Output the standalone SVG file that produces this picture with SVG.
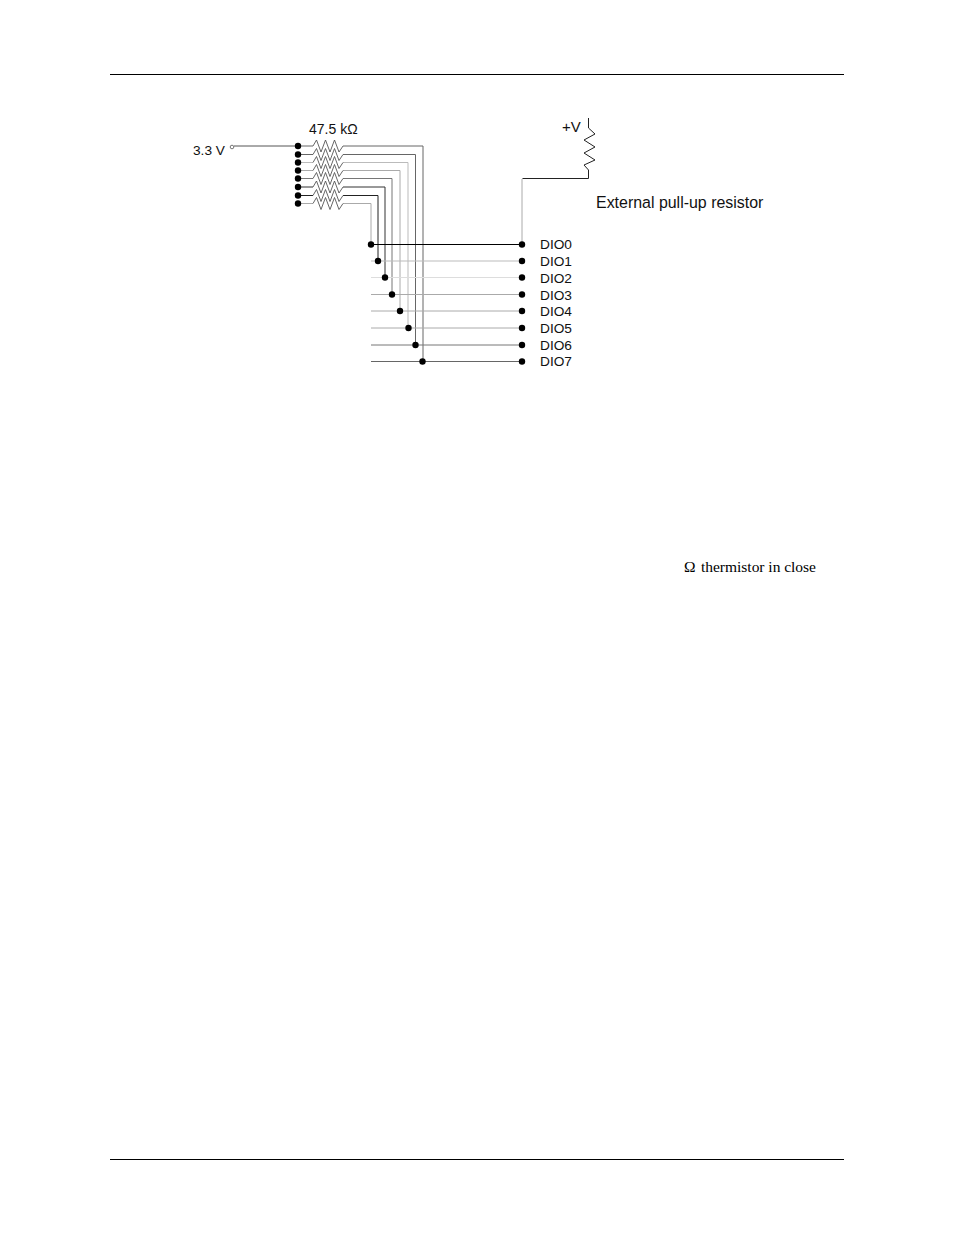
<svg xmlns="http://www.w3.org/2000/svg" width="954" height="1235" viewBox="0 0 954 1235">
<defs>
<g id="res"><path d="M0 0L3.500 -6L8 6L12.500 -6L17 6L21.500 -6L26 6L30 0" fill="none" stroke="#555" stroke-width="0.9"/></g>
<circle id="dot" r="3.200" fill="#000"/>
</defs>
<style>
.a{font-family:"Liberation Sans",Arial,sans-serif;font-size:13.700px;fill:#111}
.s{font-family:"Liberation Serif","Times New Roman",serif;font-size:15.500px;fill:#000}
.w{fill:none}
</style>
<rect width="954" height="1235" fill="#fff"/>
<g id="page-rules" stroke="#000" stroke-width="1">
<line x1="110" y1="74.500" x2="844" y2="74.500"/>
<line x1="110" y1="1159.500" x2="844" y2="1159.500"/>
</g>
<g id="connectors" class="w" stroke-width="1">
<path d="M234 146H298" stroke="#555"/>
<path d="M298 146H313M343 146H423V361" stroke="#666"/>
<path d="M298 154.500H313M343 154.500H415.500V345" stroke="#666"/>
<path d="M298 162.500H313M343 162.500H408V328" stroke="#bbb"/>
<path d="M298 170.500H313M343 170.500H400V311" stroke="#aaa"/>
<path d="M298 178.500H313M343 178.500H392V294" stroke="#777"/>
<path d="M298 187H313M343 187H385V277.500" stroke="#333"/>
<path d="M298 195.500H313M343 195.500H378V260.500" stroke="#222"/>
<path d="M298 203.500H313M343 203.500H371V244" stroke="#aaa"/>
<path d="M371 244.500H522" stroke="#000"/>
<path d="M371 261H522" stroke="#bbb"/>
<path d="M371 277.500H522" stroke="#ddd"/>
<path d="M371 294.500H522" stroke="#aaa"/>
<path d="M371 311H522" stroke="#aaa"/>
<path d="M371 328H522" stroke="#aaa"/>
<path d="M371 345H522" stroke="#777"/>
<path d="M371 361.500H522" stroke="#666"/>
<path d="M522 244V179" stroke="#aaa"/>
<path d="M522.500 178.500H588.500V170L584 165L595 160L584 153L595 147L584 140L595 134L588.500 128V118" stroke="#222"/>
</g>
<g id="node-resistor-array">
<use href="#res" x="313" y="146"/><use href="#res" x="313" y="154.500"/><use href="#res" x="313" y="162.500"/><use href="#res" x="313" y="170.500"/><use href="#res" x="313" y="178.500"/><use href="#res" x="313" y="187"/><use href="#res" x="313" y="195.500"/><use href="#res" x="313" y="203.500"/>
<use href="#dot" x="298" y="146"/><use href="#dot" x="298" y="154.500"/><use href="#dot" x="298" y="162.500"/><use href="#dot" x="298" y="170.500"/><use href="#dot" x="298" y="178.500"/><use href="#dot" x="298" y="187"/><use href="#dot" x="298" y="195.500"/><use href="#dot" x="298" y="203.500"/>
<text class="a" style="font-size:14px" x="309" y="134">47.5 kΩ</text>
</g>
<g id="node-supply">
<circle cx="232" cy="147" r="1.800" fill="#fff" stroke="#555" stroke-width="0.8"/>
<text class="a" x="193" y="155">3.3 V</text>
</g>
<g id="node-junctions">
<use href="#dot" x="371" y="244.500"/><use href="#dot" x="378" y="261"/><use href="#dot" x="385" y="277.500"/><use href="#dot" x="392" y="294.500"/><use href="#dot" x="400" y="311"/><use href="#dot" x="408.500" y="328"/><use href="#dot" x="415.500" y="345"/><use href="#dot" x="422.500" y="361.500"/>
</g>
<g id="node-dio">
<use href="#dot" x="522" y="244.500"/><use href="#dot" x="522" y="261"/><use href="#dot" x="522" y="277.500"/><use href="#dot" x="522" y="294.500"/><use href="#dot" x="522" y="311"/><use href="#dot" x="522" y="328"/><use href="#dot" x="522" y="345"/><use href="#dot" x="522" y="361.500"/>
<text class="a" x="540" y="249">DIO0</text>
<text class="a" x="540" y="266">DIO1</text>
<text class="a" x="540" y="283">DIO2</text>
<text class="a" x="540" y="299.500">DIO3</text>
<text class="a" x="540" y="316">DIO4</text>
<text class="a" x="540" y="333">DIO5</text>
<text class="a" x="540" y="350">DIO6</text>
<text class="a" x="540" y="366">DIO7</text>
</g>
<g id="node-pullup">
<text class="a" style="font-size:15px" x="562" y="132">+V</text>
<text class="a" style="font-size:15.950px" x="596" y="208">External pull-up resistor</text>
</g>
<text class="s" x="684" y="572"><tspan>Ω</tspan><tspan x="701" textLength="115">thermistor in close</tspan></text>
</svg>
